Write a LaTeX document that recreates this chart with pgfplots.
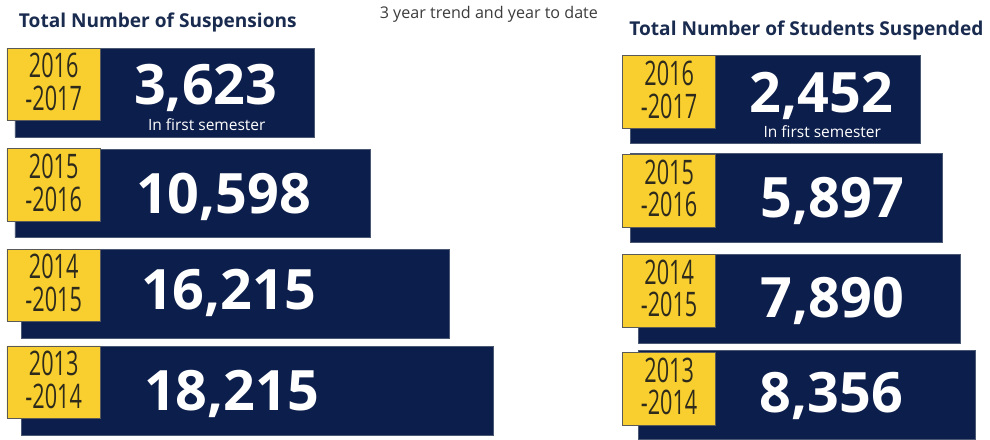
\documentclass[border=0pt]{standalone}
\usepackage{pgfplots}
\pgfplotsset{compat=1.18}
\usepackage{pgfplotstable}
\usepackage{fontspec}
\setmainfont{Open Sans}
\newfontfamily\yearfont[FakeStretch=0.64]{Open Sans}

\definecolor{navy}{HTML}{0C1E4B}
\definecolor{navyedge}{HTML}{4A5874}
\definecolor{gold}{HTML}{F8CF2E}
\definecolor{titleblue}{HTML}{1A2B50}
\definecolor{yeartext}{HTML}{2E2B1C}
\definecolor{subgray}{HTML}{3C3C3C}

% left panel rows (suspensions) then right panel rows (students suspended)
% positions in picture pixels, bar ends as drawn in the graphic
\pgfplotstableread{
year barc  bar0 bar1 boxc  box0 box1 labx laby value  yearx
2016 90.5  15   316  82    7    101  207  102  3,623  54
2015 191.5 15   373  183   7    101  225  212  10,598 54
2014 292.5 22   452  284   7    101  230  308  16,215 54
2013 390   22   496  381.5 7    101  233  410  18,215 54
2016 97    634  926  89.5  626  720  826  110  2,452  673
2015 196   634  948  189   626  720  837  216  5,897  673
2014 297.5 642  966  289.5 626  720  837  316  7,890  673
2013 394   642  981  388   626  720  836  412  8,356  673
}\rows

\pgfplotsset{pix/.style={
    width=495pt, height=218.5pt, scale only axis,
    xmin=0, xmax=990, ymin=0, ymax=437,
    y dir=reverse, hide axis, clip=false,
    at={(0,0)}, anchor=south west,
}}

\begin{document}
\begin{tikzpicture}
% navy bars
\begin{axis}[pix, stack plots=x]
\path (rel axis cs:0,0) rectangle (rel axis cs:1,1);
\addplot[xbar, bar shift=0, bar width=89, draw=none, fill=none]
    table[x=bar0, y=barc]{\rows};
\addplot[xbar, bar shift=0, bar width=89, fill=navy, draw=navyedge, line width=0.4pt]
    table[x expr=\thisrow{bar1}-\thisrow{bar0}, y=barc]{\rows};
\end{axis}

% yellow year boxes
\begin{axis}[pix, stack plots=x]
\addplot[xbar, bar shift=0, bar width=73, draw=none, fill=none]
    table[x=box0, y=boxc]{\rows};
\addplot[xbar, bar shift=0, bar width=73, fill=gold, draw=gray!70!black, line width=0.4pt]
    table[x expr=\thisrow{box1}-\thisrow{box0}, y=boxc]{\rows};
\end{axis}

% texts
\begin{axis}[pix]
\addplot[draw=none, mark=none, point meta=explicit symbolic, nodes near coords,
    every node near coord/.style={anchor=base, inner sep=0pt, text=white,
        font=\fontsize{28}{30}\selectfont\bfseries}]
    table[x=labx, y=laby, meta=value]{\rows};
\addplot[draw=none, mark=none, point meta=explicit symbolic,
    nodes near coords={\pgfplotspointmeta\\-\the\numexpr\pgfplotspointmeta+1\relax},
    every node near coord/.style={anchor=center, align=center, inner sep=0pt,
        yshift=1.2pt, text=yeartext, font=\yearfont\fontsize{17}{16.5}\selectfont}]
    table[x=yearx, y=boxc, meta=year]{\rows};

\node[anchor=base west, text=titleblue, font=\fontsize{9.6}{11}\selectfont\bfseries]
    at (axis cs:12,25) {Total Number of Suspensions};
\node[anchor=base west, text=titleblue, font=\fontsize{9.6}{11}\selectfont\bfseries]
    at (axis cs:626,33) {Total Number of Students Suspended};
\node[anchor=base west, text=subgray, font=\fontsize{8.1}{10}\selectfont]
    at (axis cs:375,16) {3 year trend and year to date};
\node[anchor=base, text=white, font=\fontsize{7.8}{9}\selectfont]
    at (axis cs:208,128) {In first semester};
\node[anchor=base, text=white, font=\fontsize{7.8}{9}\selectfont]
    at (axis cs:827,135) {In first semester};
\end{axis}
\end{tikzpicture}
\end{document}
